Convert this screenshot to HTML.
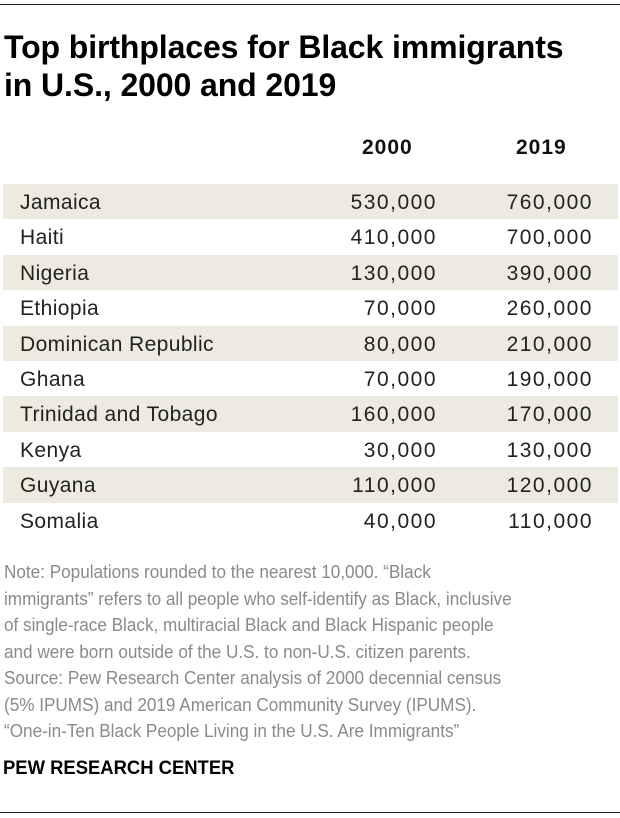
<!DOCTYPE html>
<html><head><style>
body{margin:0;width:620px;height:818px;background:#fff;font-family:"Liberation Sans",sans-serif;position:relative;overflow:hidden}
.line{position:absolute;left:0;width:620px;height:1px;background:#222}
.t{position:absolute;left:4px;top:28px;font-weight:bold;font-size:32px;line-height:38px;color:#000;white-space:nowrap;letter-spacing:-0.1px}
.h{position:absolute;top:136px;font-weight:bold;font-size:21px;color:#111;letter-spacing:1px}
.row{position:absolute;left:3px;width:615px;height:35.4px;font-size:21px;color:#222}
.row.b{background:#EDEBE0}
.row span{position:absolute;top:7px}
.c{left:17px;letter-spacing:0.4px}.a{right:181px;letter-spacing:1.5px}.d{right:25px;letter-spacing:1.5px}
.note{position:absolute;left:4px;top:559px;font-size:18px;line-height:26.5px;color:#8a8a8a;white-space:nowrap;transform:scaleX(0.952);transform-origin:left top}
.pew{position:absolute;left:3px;top:758px;font-weight:bold;font-size:19px;color:#000;transform:scaleX(0.97);transform-origin:left top}
</style></head><body>
<div class="line" style="top:4px"></div>
<div class="t">Top birthplaces for Black immigrants<br>in U.S., 2000 and 2019</div>
<div class="h" style="left:362px">2000</div>
<div class="h" style="left:516px">2019</div>
<div class="row b" style="top:184px"><span class="c">Jamaica</span><span class="a">530,000</span><span class="d">760,000</span></div>
<div class="row" style="top:219.4px"><span class="c">Haiti</span><span class="a">410,000</span><span class="d">700,000</span></div>
<div class="row b" style="top:254.8px"><span class="c">Nigeria</span><span class="a">130,000</span><span class="d">390,000</span></div>
<div class="row" style="top:290.2px"><span class="c">Ethiopia</span><span class="a">70,000</span><span class="d">260,000</span></div>
<div class="row b" style="top:325.6px"><span class="c">Dominican Republic</span><span class="a">80,000</span><span class="d">210,000</span></div>
<div class="row" style="top:361px"><span class="c">Ghana</span><span class="a">70,000</span><span class="d">190,000</span></div>
<div class="row b" style="top:396.4px"><span class="c">Trinidad and Tobago</span><span class="a">160,000</span><span class="d">170,000</span></div>
<div class="row" style="top:431.8px"><span class="c">Kenya</span><span class="a">30,000</span><span class="d">130,000</span></div>
<div class="row b" style="top:467.2px"><span class="c">Guyana</span><span class="a">110,000</span><span class="d">120,000</span></div>
<div class="row" style="top:502.6px"><span class="c">Somalia</span><span class="a">40,000</span><span class="d">110,000</span></div>
<div class="note">Note: Populations rounded to the nearest 10,000. “Black<br>immigrants” refers to all people who self-identify as Black, inclusive<br>of single-race Black, multiracial Black and Black Hispanic people<br>and were born outside of the U.S. to non-U.S. citizen parents.<br>Source: Pew Research Center analysis of 2000 decennial census<br>(5% IPUMS) and 2019 American Community Survey (IPUMS).<br>“One-in-Ten Black People Living in the U.S. Are Immigrants”</div>
<div class="pew">PEW RESEARCH CENTER</div>
<div class="line" style="top:812px"></div>
</body></html>
